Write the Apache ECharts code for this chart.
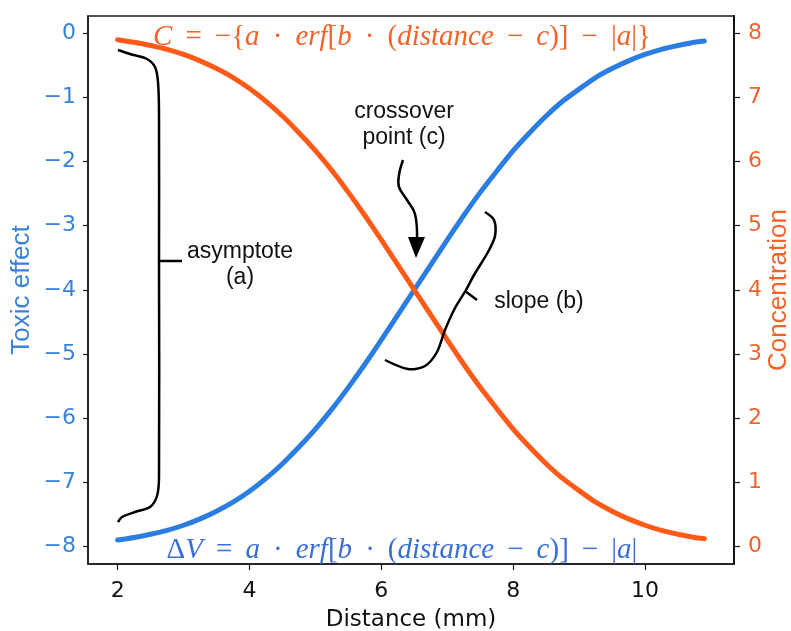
<!DOCTYPE html>
<html>
<head>
<meta charset="utf-8">
<script src="https://cdn.jsdelivr.net/npm/echarts@6/dist/echarts.min.js"></script>
<style>
html,body{margin:0;padding:0;background:#fff;}
#chart{width:791px;height:631px;}
</style>
</head>
<body>
<div id="chart"></div>
<script>
// ---- data ----
const distance = [2,2.25,2.5,2.75,3,3.25,3.5,3.75,4,4.25,4.5,4.75,5,5.25,5.5,5.75,6,6.25,6.5,6.75,7,7.25,7.5,7.75,8,8.25,8.5,8.75,9,9.25,9.5,9.75,10,10.25,10.5,10.75,10.9];
const toxicEffect = [-7.90,-7.86,-7.81,-7.75,-7.67,-7.57,-7.45,-7.31,-7.14,-6.94,-6.71,-6.45,-6.17,-5.86,-5.52,-5.16,-4.78,-4.39,-4.00,-3.61,-3.22,-2.84,-2.48,-2.15,-1.83,-1.55,-1.29,-1.06,-0.87,-0.69,-0.55,-0.43,-0.33,-0.25,-0.19,-0.14,-0.12];
const concentration = [7.90,7.86,7.81,7.75,7.67,7.57,7.45,7.31,7.14,6.94,6.71,6.45,6.17,5.86,5.52,5.16,4.78,4.39,4.00,3.61,3.22,2.84,2.48,2.15,1.83,1.55,1.29,1.06,0.87,0.69,0.55,0.43,0.33,0.25,0.19,0.14,0.12];
const xTicks = [2,4,6,8,10];
const leftTicks = [-8,-7,-6,-5,-4,-3,-2,-1,0];
const rightTicks = [0,1,2,3,4,5,6,7,8];

const BLUE = '#2b7de1';
const ORANGE = '#ff5a17';
const BLUE_TXT = '#3a83d8';
const ORANGE_TXT = '#f5622a';

const toxicData = distance.map((d,i)=>[d,toxicEffect[i]]);
const concData = distance.map((d,i)=>[d,concentration[i]]);
const fmtMinus = v => String(v).replace('-', '\u2212');

const chart = echarts.init(document.getElementById('chart'), null, {renderer:'canvas'});

const richMath = (color) => ({
  i:{fontFamily:'Liberation Serif', fontStyle:'italic', fontSize:29, fill:color, color:color},
  n:{fontFamily:'Liberation Serif', fontStyle:'normal', fontSize:29, fill:color, color:color}
});
const S = ' \u2009';

chart.setOption({
  animation:false,
  backgroundColor:'#fff',
  grid:{left:88, right:57, top:16, bottom:67, containLabel:false, outerBoundsMode:'none', show:true, borderColor:'#1a1a1a', borderWidth:1.5, backgroundColor:'transparent'},
  xAxis:{
    type:'value', min:1.55, max:11.35,
    name:'Distance (mm)', nameLocation:'middle', nameGap:45, nameMoveOverlap:false,
    nameTextStyle:{fontFamily:'DejaVu Sans', fontSize:23, color:'#111'},
    axisLine:{show:true, onZero:false, lineStyle:{color:'#1a1a1a', width:1.5}},
    axisTick:{show:true, customValues:xTicks, length:6, lineStyle:{color:'#1a1a1a', width:1.2}},
    axisLabel:{customValues:xTicks, margin:16, fontFamily:'DejaVu Sans', fontSize:22, color:'#111'},
    splitLine:{show:false}
  },
  yAxis:[{
    type:'value', min:-8.274, max:0.27, position:'left',
    name:'Toxic effect', nameLocation:'middle', nameGap:53, nameRotate:90, nameMoveOverlap:false,
    nameTextStyle:{fontFamily:'Liberation Sans', fontSize:26, color:BLUE_TXT},
    axisLine:{show:true, onZero:false, lineStyle:{color:'#1a1a1a', width:1.5}},
    axisTick:{show:true, customValues:leftTicks, length:5, lineStyle:{color:'#1a1a1a', width:1.2}},
    axisLabel:{customValues:leftTicks, margin:12, fontFamily:'DejaVu Sans', fontSize:22, color:BLUE_TXT, formatter:fmtMinus},
    splitLine:{show:false}
  },{
    type:'value', min:-0.274, max:8.27, position:'right',
    name:'Concentration', nameLocation:'middle', nameGap:32, nameRotate:90, nameMoveOverlap:false,
    nameTextStyle:{fontFamily:'Liberation Sans', fontSize:26, color:ORANGE_TXT},
    axisLine:{show:true, onZero:false, lineStyle:{color:'#111', width:2}},
    axisTick:{show:true, customValues:rightTicks, length:6, lineStyle:{color:'#1a1a1a', width:1.2}},
    axisLabel:{customValues:rightTicks, margin:14, fontFamily:'DejaVu Sans', fontSize:22, color:ORANGE_TXT},
    splitLine:{show:false}
  }],
  series:[{
    type:'line', name:'Toxic effect', yAxisIndex:0, data:toxicData,
    showSymbol:false, symbol:'none', smooth:0.2,
    lineStyle:{color:BLUE, width:5, cap:'round'}, z:2
  },{
    type:'line', name:'Concentration', yAxisIndex:1, data:concData,
    showSymbol:false, symbol:'none', smooth:0.2,
    lineStyle:{color:ORANGE, width:5, cap:'round'}, z:3
  }],
  graphic:[
    {type:'text', x:402, y:37, z:10, style:{
      text:'{i|C}{n|'+S+'='+S+'\u2212{}{i|a}{n|'+S+'\u00b7'+S+'}{i|erf}{n|[}{i|b}{n|'+S+'\u00b7'+S+'(}{i|distance}{n|'+S+'\u2212'+S+'}{i|c}{n|)]'+S+'\u2212'+S+'|}{i|a}{n||}}',
      rich:richMath(ORANGE_TXT), fill:ORANGE_TXT, font:'29px "Liberation Serif"', align:'center', verticalAlign:'middle'}},
    {type:'text', x:402, y:550, z:10, style:{
      text:'{n|\u0394}{i|V}{n|'+S+'='+S+'}{i|a}{n|'+S+'\u00b7'+S+'}{i|erf}{n|[}{i|b}{n|'+S+'\u00b7'+S+'(}{i|distance}{n|'+S+'\u2212'+S+'}{i|c}{n|)]'+S+'\u2212'+S+'|}{i|a}{n||}',
      rich:richMath('#3a6fd6'), fill:'#3a6fd6', font:'29px "Liberation Serif"', align:'center', verticalAlign:'middle'}},
    // asymptote brace
    {type:'polyline', z:10, shape:{smooth:0.3, points:[[118,50],[130,54],[147,59],[155,67],[158,82],[159,113],[159,262],[159,477],[157,496],[150,507],[135,512],[122,517],[118,522]]},
      style:{stroke:'#000', lineWidth:2.5, fill:null}},
    {type:'line', z:10, shape:{x1:159,y1:261,x2:182,y2:261}, style:{stroke:'#000', lineWidth:2.5}},
    {type:'text', x:240, y:265, z:10, style:{text:'asymptote\n(a)', font:'23px "Liberation Sans"', fill:'#111', align:'center', verticalAlign:'middle', lineHeight:26}},
    // crossover arrow
    {type:'polyline', z:10, shape:{smooth:0.4, points:[[403,160],[399,175],[399,187],[407,200],[415,214],[417,240]]},
      style:{stroke:'#000', lineWidth:2.5, fill:null}},
    {type:'polygon', z:10, shape:{points:[[408,237],[425,237],[416,258]]}, style:{fill:'#000'}},
    {type:'text', x:404, y:125, z:10, style:{text:'crossover\npoint (c)', font:'23px "Liberation Sans"', fill:'#111', align:'center', verticalAlign:'middle', lineHeight:26}},
    // slope brace
    {type:'polyline', z:10, shape:{smooth:0.3, points:[[485,212],[494,220],[495,236],[488,252],[474,275],[466,290],[455,308],[445,330],[437,352],[425,366],[408,369],[385,360]]},
      style:{stroke:'#000', lineWidth:2.5, fill:null}},
    {type:'line', z:10, shape:{x1:465,y1:291,x2:477,y2:300}, style:{stroke:'#000', lineWidth:2.5}},
    {type:'text', x:539, y:302, z:10, style:{text:'slope (b)', font:'23px "Liberation Sans"', fill:'#111', align:'center', verticalAlign:'middle'}}
  ]
});
</script>
</body>
</html>
